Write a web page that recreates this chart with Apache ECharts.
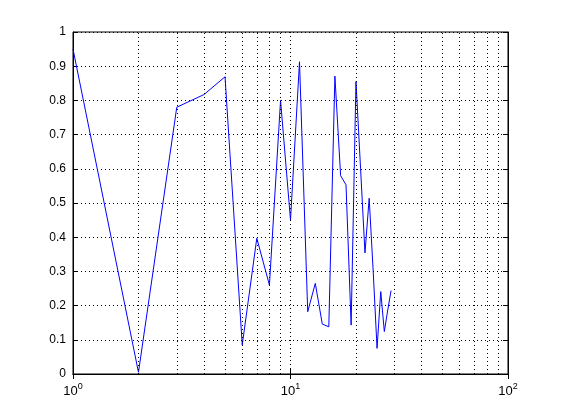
<!DOCTYPE html>
<html>
<head>
<meta charset="utf-8">
<script src="https://cdn.jsdelivr.net/npm/echarts@6/dist/echarts.min.js"></script>
<style>html,body{margin:0;padding:0;background:#fff;}#c{width:561px;height:420px;}</style>
</head>
<body>
<div id="c"></div>
<script>
var xValues = [1,2,3,4,5,6,7,8,9,10,11,12,13,14,15,16,17,18,19,20,21,22,23,24,25,26,27,28,29];
var yValues = [0.95,0.005,0.78,0.817,0.869,0.085,0.397,0.26,0.80,0.45,0.913,0.182,0.265,0.146,0.138,0.871,0.58,0.553,0.143,0.855,0.6,0.354,0.514,0.3,0.075,0.241,0.124,0.187,0.244];
var minorGridX = [2,3,4,5,6,7,8,9,20,30,40,50,60,70,80,90];

var chart = echarts.init(document.getElementById('c'), null, {renderer:'canvas'});
var dotted = {color:'#000', width:1, type:[1,3]};
var font = 'Liberation Sans, Arial, sans-serif';
chart.setOption({
  backgroundColor:'#fff',
  animation:false,
  grid:{left:73, right:53, top:32, bottom:46, show:true, borderColor:'#000', borderWidth:1, backgroundColor:'transparent'},
  xAxis:[{
    type:'log', logBase:10, min:1, max:100, position:'bottom',
    axisLine:{show:true, lineStyle:{color:'#000'}},
    axisTick:{show:true, inside:true, length:5, lineStyle:{color:'#000'}},
    splitLine:{show:true, lineStyle:dotted},
    axisLabel:{color:'#000', margin:8, fontFamily:font,
      formatter:function(v){return '{b|10}{s|'+Math.round(Math.log10(v))+'}';},
      rich:{b:{fontSize:13, fontFamily:font, color:'#000'}, s:{fontSize:9, fontFamily:font, color:'#000', verticalAlign:'top', padding:[0,0,10,0]}}}
  },{
    type:'log', logBase:10, min:1, max:100, position:'top',
    axisLine:{show:true, lineStyle:{color:'#000'}},
    axisTick:{show:true, inside:true, length:5, lineStyle:{color:'#000'}},
    axisLabel:{show:false}, splitLine:{show:false}
  }],
  yAxis:[{
    type:'value', min:0, max:1, interval:0.1, position:'left',
    axisLine:{show:true, lineStyle:{color:'#000'}},
    axisTick:{show:true, inside:true, length:5, lineStyle:{color:'#000'}},
    splitLine:{show:true, lineStyle:dotted},
    axisLabel:{color:'#000', fontSize:12, fontFamily:font, margin:7,
      formatter:function(v){return String(Math.round(v*10)/10);}}
  },{
    type:'value', min:0, max:1, interval:0.1, position:'right',
    axisLine:{show:true, lineStyle:{color:'#000'}},
    axisTick:{show:true, inside:true, length:5, lineStyle:{color:'#000'}},
    axisLabel:{show:false}, splitLine:{show:false}
  }],
  series:[{
    type:'line',
    xAxisIndex:0, yAxisIndex:0,
    data:xValues.map(function(x,i){return [x, yValues[i]];}),
    showSymbol:false, symbol:'none',
    lineStyle:{color:'#0000ff', width:1},
    markLine:{silent:true, symbol:'none', label:{show:false},
      lineStyle:dotted, animation:false,
      data:minorGridX.map(function(v){return {xAxis:v};})}
  }]
});
</script>
</body>
</html>
